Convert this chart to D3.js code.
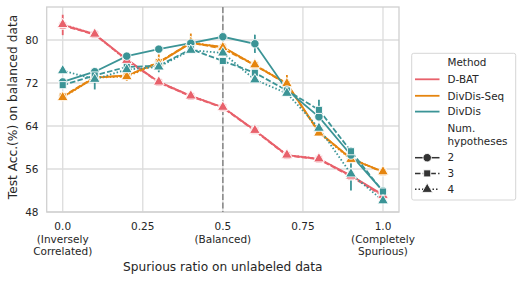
<!DOCTYPE html>
<html><head><meta charset="utf-8">
<script src="https://cdn.jsdelivr.net/npm/d3@7"></script>
<style>body{margin:0;background:#fff}svg{font-family:"DejaVu Sans",sans-serif}</style>
</head><body><svg id="c" width="523" height="281"></svg>
<script>
const xs = [0,0.1,0.2,0.3,0.4,0.5,0.6,0.7,0.8,0.9,1.0];
const methods = ["D-BAT","DivDis-Seq","DivDis"];
const colors = ["#e8616b","#e5850f","#3b9496"];
const hyps = ["2","3","4"];
// values[method][hyp]
const dbat2 = [82.8,81.1,76.4,72.2,69.6,67.5,63.2,58.6,57.9,54.8,51.2];
const dbat3 = [82.7,81.0,76.3,72.1,69.5,67.4,63.1,58.5,57.8,54.6,51.0];
const dbat4 = [82.9,81.1,76.2,72.2,69.6,67.5,63.2,58.6,57.9,54.7,51.1];
const seq2 = [69.4,73.0,73.4,75.8,79.4,78.7,75.3,71.9,62.9,57.9,55.5];
const seq3 = [69.5,73.1,73.3,75.9,79.5,78.4,75.3,71.8,62.8,58.0,55.4];
const seq4 = [69.3,73.0,73.2,75.7,79.6,78.6,75.4,71.9,62.7,57.8,55.5];
const div2 = [72.2,74.1,77.0,78.3,79.4,80.6,79.3,70.7,65.7,58.6,51.9];
const div3 = [71.6,73.4,75.0,75.2,78.3,76.1,73.9,70.6,67.0,59.3,51.8];
const div4 = [74.3,72.7,74.5,75.0,78.1,77.6,72.6,70.1,63.6,55.1,50.1];
// CI half widths
const dbat2e = [1.9,0.3,0.4,0.4,0.4,0.4,0.3,0.3,0.6,0.4,0.4];
const seq2e = [0.4,0.5,1.0,1.5,1.8,0.6,0.5,1.6,0.6,0.4,0.4];
const div2e = [0.4,0.5,0.6,0.4,0.5,0.4,1.7,0.5,0.8,0.6,0.5];
const div3e = [0.6,0.5,0.4,0.4,0.4,0.4,0.5,0.5,1.9,0.8,0.5];
const div4e = [0.5,1.9,0.5,1.0,0.4,0.5,0.6,0.5,0.6,3.1,0.6];
const yTicks = [48,56,64,72,80];
const xTicks = [0,0.25,0.5,0.75,1.0];
const xTickLabels = [["0.0","(Inversely","Correlated)"],["0.25"],["0.5","(Balanced)"],["0.75"],["1.0","(Completely","Spurious)"]];

const series = [
 {m:0,h:0,v:dbat2,e:dbat2e},{m:0,h:1,v:dbat3,e:null},{m:0,h:2,v:dbat4,e:null},
 {m:1,h:0,v:seq2,e:seq2e},{m:1,h:1,v:seq3,e:null},{m:1,h:2,v:seq4,e:null},
 {m:2,h:0,v:div2,e:div2e},{m:2,h:1,v:div3,e:div3e},{m:2,h:2,v:div4,e:div4e}
];
const dashes = [null,"5.5,2.2","1.5,2"];

const svg = d3.select("#c");
const L=46.7,R=399,T=7,B=212;
const x = d3.scaleLinear().domain([-0.05,1.05]).range([L,R]);
const y = d3.scaleLinear().domain([48,86.14]).range([B,T]);

// grid
const g = svg.append("g");
g.selectAll(".gx").data(xTicks).join("line").attr("x1",d=>x(d)).attr("x2",d=>x(d)).attr("y1",T).attr("y2",B).attr("stroke","#dcdcdc").attr("stroke-width",1.3);
g.selectAll(".gy").data(yTicks).join("line").attr("y1",d=>y(d)).attr("y2",d=>y(d)).attr("x1",L).attr("x2",R).attr("stroke","#dcdcdc").attr("stroke-width",1.3);
svg.append("rect").attr("x",L).attr("y",T).attr("width",R-L).attr("height",B-T).attr("fill","none").attr("stroke","#d0d0d0").attr("stroke-width",1.3);

// balanced line
svg.append("line").attr("x1",x(0.5)).attr("x2",x(0.5)).attr("y1",T).attr("y2",B).attr("stroke","#8c8c8c").attr("stroke-width",1.6).attr("stroke-dasharray","6,2.5");

const line = d3.line().x((d,i)=>x(xs[i])).y(d=>y(d));
const sym = [d3.symbolCircle,d3.symbolSquare,d3.symbolTriangle];
const symSize = [56,50,50];

series.forEach(s=>{
  const c = colors[s.m];
  svg.append("path").datum(s.v).attr("d",line).attr("fill","none").attr("stroke",c).attr("stroke-width",1.8).attr("stroke-dasharray",dashes[s.h]);
  if(s.e){
    svg.append("g").selectAll("line").data(s.v).join("line")
      .attr("x1",(d,i)=>x(xs[i])).attr("x2",(d,i)=>x(xs[i]))
      .attr("y1",(d,i)=>y(d-s.e[i])).attr("y2",(d,i)=>y(d+s.e[i]))
      .attr("stroke",c).attr("stroke-width",1.8);
  }
});
series.forEach(s=>{
  const c = colors[s.m];
  svg.append("g").selectAll("path").data(s.v).join("path")
    .attr("transform",(d,i)=>`translate(${x(xs[i])},${y(d)})`)
    .attr("d",d3.symbol().type(sym[s.h]).size(symSize[s.h]))
    .attr("fill",c).attr("stroke","#fff").attr("stroke-width",0.9);
});

// y axis ticks
svg.selectAll(".yt").data(yTicks).join("text").attr("x",38.5).attr("y",d=>y(d)).attr("dy","0.36em").attr("text-anchor","end").attr("font-size",10.5).attr("fill","#262626").text(d=>d);
// x ticks
xTicks.forEach((t,i)=>{
  const tx = svg.append("text").attr("x",x(t)).attr("y",230).attr("text-anchor","middle").attr("font-size",10.5).attr("fill","#262626");
  xTickLabels[i].forEach((s,j)=>tx.append("tspan").attr("x",x(t)).attr("dy",j?12.6:0).text(s));
});
svg.append("text").attr("x",x(0.5)).attr("y",271).attr("text-anchor","middle").attr("font-size",12.2).attr("fill","#262626").text("Spurious ratio on unlabeled data");
svg.append("text").attr("transform","translate(16.5,107) rotate(-90)").attr("text-anchor","middle").attr("font-size",12.2).attr("fill","#262626").text("Test Acc.(%) on balanced data");

// legend
const lg = svg.append("g");
lg.append("rect").attr("x",411.7).attr("y",53.3).attr("width",104).attr("height",146.7).attr("rx",2).attr("fill","#fff").attr("stroke","#d6d6d6").attr("stroke-width",1);
const tx0=447.5;
const lt=(t,yy)=>lg.append("text").attr("x",tx0).attr("y",yy).attr("dy","0.36em").attr("font-size",10.4).attr("fill","#262626").text(t);
lt("Method",62.7);
methods.forEach((m,i)=>{
  const yy=[79.3,95.8,111.6][i];
  lg.append("line").attr("x1",415).attr("x2",439.5).attr("y1",yy).attr("y2",yy).attr("stroke",colors[i]).attr("stroke-width",1.8);
  lt(m,yy);
});
lt("Num.",127.8); lt("hypotheses",141.6);
hyps.forEach((h,i)=>{
  const yy=[157.7,173.4,189.3][i];
  lg.append("line").attr("x1",415).attr("x2",439.5).attr("y1",yy).attr("y2",yy).attr("stroke","#333").attr("stroke-width",1.5).attr("stroke-dasharray",dashes[i]);
  lg.append("path").attr("transform",`translate(427.2,${yy})`).attr("d",d3.symbol().type(sym[i]).size(symSize[i])).attr("fill","#333").attr("stroke","#fff").attr("stroke-width",0.9);
  lt(h,yy);
});
</script></body></html>
